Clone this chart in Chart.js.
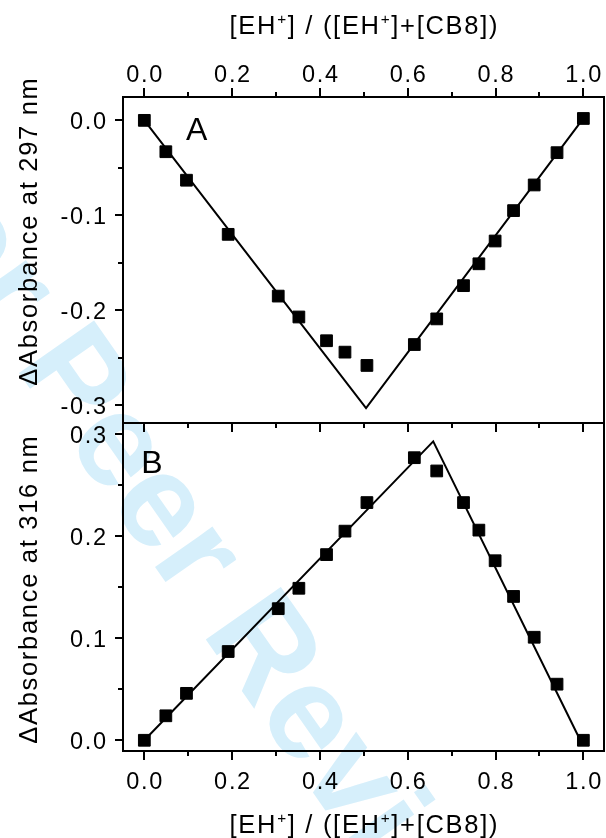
<!DOCTYPE html>
<html lang="en">
<head>
<meta charset="UTF-8">
<title>Job plot EH+ / CB8</title>
<script src="https://cdn.jsdelivr.net/npm/chart.js"></script>
<style>
  body { margin: 0; background: #fff; }
  #wrap { position: relative; width: 606px; height: 838px; overflow: hidden; }
  canvas { position: absolute; left: 0; }
  #mark { top: 0; }
  #chartA { top: 0; }
  #chartB { top: 421px; }
</style>
</head>
<body>
<div id="wrap">
  <canvas id="mark" width="606" height="838"></canvas>
  <canvas id="chartA" width="606" height="425"></canvas>
  <canvas id="chartB" width="606" height="417"></canvas>
</div>
<script>
// mole fraction [EH+]/([EH+]+[CB8]), same for both panels
const fraction = [0, 0.049, 0.096, 0.191, 0.305, 0.352, 0.415, 0.457, 0.507, 0.615, 0.666, 0.727, 0.762, 0.799, 0.841, 0.888, 0.940, 1.0];
// panel A: dAbs at 297 nm
const absA = [0, -0.033, -0.063, -0.120, -0.185, -0.207, -0.232, -0.244, -0.258, -0.236, -0.209, -0.174, -0.151, -0.127, -0.095, -0.068, -0.034, 0.002];
// panel B: dAbs at 316 nm
const absB = [0, 0.024, 0.046, 0.087, 0.129, 0.149, 0.182, 0.205, 0.233, 0.277, 0.264, 0.233, 0.206, 0.176, 0.141, 0.101, 0.055, 0];
// straight line fits
const fitAx = [0, 0.505, 1.0];
const fitAy = [0, -0.303, 0.002];
const fitBx = [0, 0.658, 0.993];
const fitBy = [0, 0.293, 0];

const xTicks = [0, 0.2, 0.4, 0.6, 0.8, 1.0];
const xMinor = [0.1, 0.3, 0.5, 0.7, 0.9];
const yTicksA = [-0.3, -0.2, -0.1, 0];
const yMinorA = [-0.25, -0.15, -0.05];
const yTicksB = [0, 0.1, 0.2, 0.3];
const yMinorB = [0.05, 0.15, 0.25];

const xTitle = [['[EH'], ['+', 1], ['] / ([EH'], ['+', 1], [']+[CB8])']];
const yTitleA = 'ΔAbsorbance at 297 nm';
const yTitleB = 'ΔAbsorbance at 316 nm';

const FONT = '"Liberation Sans", Arial, Helvetica, sans-serif';
const SPACING = '1.7px';
const SP = 1.7;

// watermark behind the plots
const wm = document.getElementById('mark').getContext('2d');
wm.save();
wm.translate(-130, 160);
wm.rotate(55 * Math.PI / 180);
wm.font = 'bold 133px ' + FONT;
wm.fillStyle = 'rgb(214,239,251)';
wm.fillText('For Peer Review', 0, 0);
wm.restore();

// text with superscripts, centred on cx, cap-centre on cy
function richText(ctx, segs, cx, cy, size) {
  const sup = size * 0.6;
  let w = 0;
  segs.forEach(s => {
    ctx.font = (s[1] ? sup : size) + 'px ' + FONT;
    w += ctx.measureText(s[0]).width;
  });
  let x = cx - (w - SP) / 2;
  const base = cy + size * 0.358;
  ctx.textAlign = 'left';
  ctx.textBaseline = 'alphabetic';
  segs.forEach(s => {
    ctx.font = (s[1] ? sup : size) + 'px ' + FONT;
    ctx.fillText(s[0], x, s[1] ? base - size * 0.38 : base);
    x += ctx.measureText(s[0]).width;
  });
}

// frame, ticks, tick labels, panel letter and axis titles
const decor = {
  id: 'decor',
  afterDraw(chart, args, o) {
    const { ctx, chartArea: a, scales } = chart;
    const xs = scales.x, ys = scales.y;
    ctx.save();
    ctx.letterSpacing = SPACING;
    ctx.strokeStyle = '#000';
    ctx.fillStyle = '#000';
    ctx.lineWidth = 2;
    ctx.strokeRect(a.left, a.top, a.right - a.left, a.bottom - a.top);

    const edge = o.top ? a.top : a.bottom;
    const dir = o.top ? -1 : 1;
    const xp = v => Math.round(xs.getPixelForValue(v));
    const yp = v => Math.round(ys.getPixelForValue(v));
    ctx.beginPath();
    xTicks.forEach(v => { ctx.moveTo(xp(v), edge); ctx.lineTo(xp(v), edge + dir * 9); });
    xMinor.forEach(v => { ctx.moveTo(xp(v), edge); ctx.lineTo(xp(v), edge + dir * 5); });
    if (o.inner) {
      xTicks.forEach(v => { ctx.moveTo(xp(v), a.top); ctx.lineTo(xp(v), a.top + 9); });
      xMinor.forEach(v => { ctx.moveTo(xp(v), a.top); ctx.lineTo(xp(v), a.top + 5); });
    }
    o.yMajor.forEach(v => { ctx.moveTo(a.left, yp(v)); ctx.lineTo(a.left - 8, yp(v)); });
    o.yMinor.forEach(v => { ctx.moveTo(a.left, yp(v)); ctx.lineTo(a.left - 5, yp(v)); });
    ctx.stroke();

    const fs = 23.5;
    ctx.font = fs + 'px ' + FONT;
    ctx.textBaseline = 'alphabetic';
    ctx.textAlign = 'center';
    xTicks.forEach(v => ctx.fillText(v.toFixed(1), xs.getPixelForValue(v) + SP / 2, o.xLabelY + fs * 0.358));
    ctx.textAlign = 'right';
    o.yMajor.forEach(v => ctx.fillText(v.toFixed(1), a.left - 17 + SP, ys.getPixelForValue(v) + fs * 0.358));

    // panel letter
    ctx.font = '32px ' + FONT;
    ctx.textAlign = 'center';
    ctx.textBaseline = 'middle';
    ctx.fillText(o.letter[0], xs.getPixelForValue(o.letter[1]) + SP / 2, ys.getPixelForValue(o.letter[2]));

    // axis titles
    richText(ctx, xTitle, (a.left + a.right) / 2, o.xTitleY, 25.5);
    ctx.save();
    ctx.translate(28, o.yTitleY);
    ctx.rotate(-Math.PI / 2);
    richText(ctx, [[o.yTitle]], 0, 0, 25.5);
    ctx.restore();
    ctx.restore();
  }
};

function axis(extra, size) {
  return Object.assign({
    type: 'linear',
    border: { display: false },
    grid: { display: false },
    ticks: { display: false },
    afterFit: s => {
      if (s.isHorizontal()) s.height = size; else s.width = size;
      s.paddingTop = s.paddingBottom = s.paddingLeft = s.paddingRight = 0;
    }
  }, extra);
}

function panel(id, ys, fx, fy, yOpts, xOpts, pad, decorOpts) {
  return new Chart(document.getElementById(id), {
    type: 'scatter',
    data: {
      datasets: [
        { data: fx.map((x, i) => ({ x, y: fy[i] })), showLine: true, borderColor: '#000', borderWidth: 2,
          pointRadius: 0, tension: 0, order: 2 },
        { data: fraction.map((x, i) => ({ x, y: ys[i] })), pointStyle: 'rect', pointRadius: 8.3,
          backgroundColor: '#000', borderColor: '#000', borderWidth: 1, order: 1 }
      ]
    },
    options: {
      responsive: false,
      animation: false,
      events: [],
      layout: { padding: pad, autoPadding: false },
      plugins: { legend: { display: false }, tooltip: { enabled: false }, decor: decorOpts },
      scales: { x: xOpts, y: yOpts }
    },
    plugins: [decor]
  });
}

panel('chartA', absA, fitAx, fitAy,
  axis({ min: -0.3186, max: 0.0246 }, 123),
  axis({ position: 'top', min: -0.0486, max: 1.047 }, 97),
  { left: 0, right: 2, top: 0, bottom: 2 },
  { top: true, inner: false, yMajor: yTicksA, yMinor: yMinorA,
    letter: ['A', 0.119, -0.0113], xLabelY: 74, xTitleY: 25, yTitleY: 232, yTitle: yTitleA });

panel('chartB', absB, fitBx, fitBy,
  axis({ min: -0.0105, max: 0.311 }, 123),
  axis({ position: 'bottom', min: -0.0486, max: 1.047 }, 87),
  { left: 0, right: 2, top: 2, bottom: 0 },
  { top: false, inner: true, yMajor: yTicksB, yMinor: yMinorB,
    letter: ['B', 0.017, 0.271], xLabelY: 360, xTitleY: 403, yTitleY: 169, yTitle: yTitleB });
</script>
</body>
</html>
